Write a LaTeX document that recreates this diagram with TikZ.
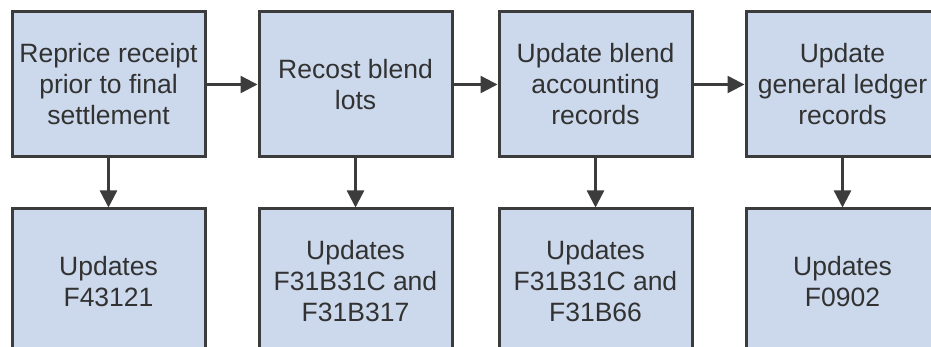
\documentclass[tikz,border=0pt]{standalone}
\usepackage{fontspec}
\setmainfont{Liberation Sans}
\usetikzlibrary{arrows.meta}
\definecolor{boxfill}{RGB}{204,217,236}
\definecolor{boxline}{RGB}{60,60,60}
\definecolor{txt}{RGB}{50,50,50}
\tikzset{
  stepbox/.style={draw=boxline, line width=3pt, fill=boxfill, minimum width=193pt, minimum height=145pt, inner sep=0pt, align=center, text=txt, font=\fontsize{26.5pt}{31pt}\selectfont},
  flow/.style={draw=boxline, line width=2.4pt, -{Triangle[length=17pt,width=17pt]}}
}
\begin{document}
\begin{tikzpicture}[x=1pt,y=-1pt]
\useasboundingbox (0,0) rectangle (931,347);
\begin{scope}
\clip (0,0) rectangle (931,347);
\node[stepbox] (a1) at (108.5,84.5) {Reprice receipt\\prior to final\\settlement};
\node[stepbox] (a2) at (355.5,84.5) {Recost blend\\lots};
\node[stepbox] (a3) at (595.5,84.5) {Update blend\\accounting\\records};
\node[stepbox] (a4) at (842.5,84.5) {Update\\general ledger\\records};
\node[stepbox] (b1) at (108.5,281.5) {Updates\\F43121};
\node[stepbox] (b2) at (355.5,281.5) {Updates\\F31B31C and\\F31B317};
\node[stepbox] (b3) at (595.5,281.5) {Updates\\F31B31C and\\F31B66};
\node[stepbox] (b4) at (842.5,281.5) {Updates\\F0902};
\draw[flow] (a1) -- (a2);
\draw[flow] (a2) -- (a3);
\draw[flow] (a3) -- (a4);
\draw[flow] (a1) -- (b1);
\draw[flow] (a2) -- (b2);
\draw[flow] (a3) -- (b3);
\draw[flow] (a4) -- (b4);
\end{scope}
\end{tikzpicture}
\end{document}
